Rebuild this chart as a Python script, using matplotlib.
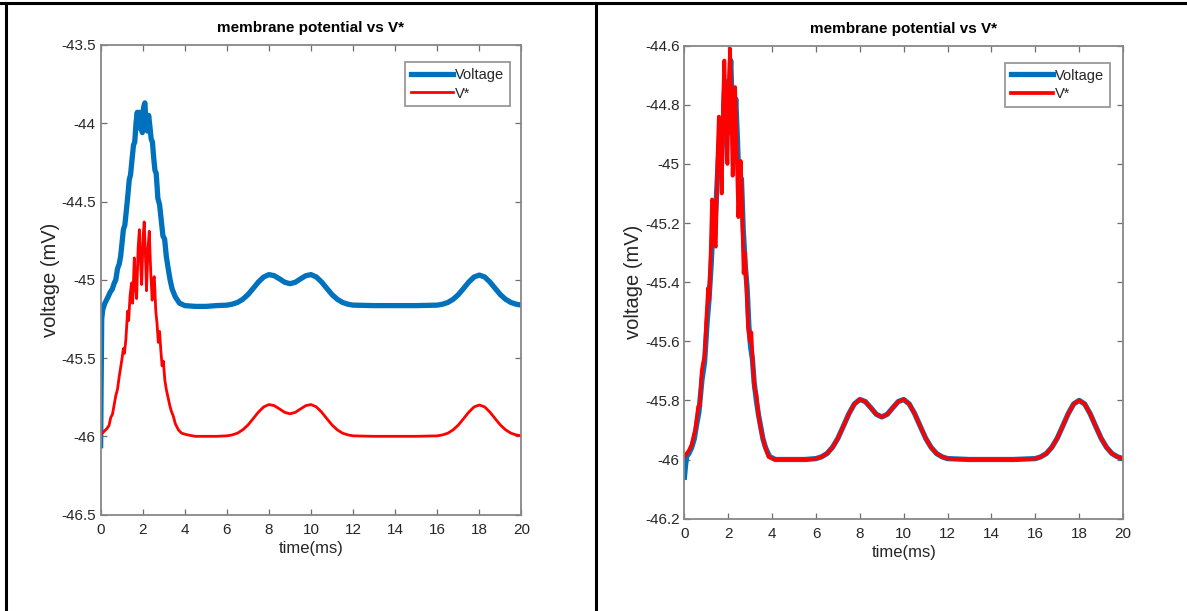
import matplotlib
matplotlib.use("Agg")
import matplotlib.pyplot as plt
from matplotlib.lines import Line2D

# ---- data (time in ms, potential in mV) ----
# early, jagged part of each trace
left_volt_t = [0.00, 0.02, 0.05, 0.10, 0.20, 0.35, 0.45, 0.55, 0.65, 0.72, 0.80, 0.88,
               0.95, 1.02, 1.08, 1.15, 1.22, 1.30, 1.36, 1.42, 1.50, 1.56, 1.62, 1.68,
               1.74, 1.80, 1.86, 1.92, 1.98, 2.04, 2.10, 2.16, 2.22, 2.28, 2.34, 2.40,
               2.46, 2.52, 2.58, 2.64, 2.72, 2.80, 2.88, 2.96, 3.04, 3.12, 3.20, 3.30,
               3.40, 3.55, 3.75, 4.00]
left_volt = [-46.06, -45.70, -45.25, -45.19, -45.15, -45.11, -45.08, -45.06, -45.02, -45.00,
             -44.93, -44.90, -44.85, -44.76, -44.68, -44.65, -44.56, -44.45, -44.36, -44.33,
             -44.22, -44.14, -44.12, -44.00, -43.93, -44.03, -43.93, -43.98, -44.06, -43.90,
             -43.87, -44.00, -44.05, -43.95, -44.02, -44.10, -44.12, -44.22, -44.30, -44.32,
             -44.48, -44.52, -44.62, -44.72, -44.74, -44.85, -44.92, -45.00, -45.06, -45.11,
             -45.15, -45.165]

left_vstar_t = [0.00, 0.15, 0.30, 0.40, 0.48, 0.56, 0.64, 0.72, 0.80, 0.88, 0.95, 1.02,
                1.08, 1.13, 1.20, 1.28, 1.33, 1.40, 1.47, 1.52, 1.60, 1.66, 1.71, 1.78,
                1.84, 1.90, 1.95, 2.02, 2.07, 2.13, 2.18, 2.25, 2.31, 2.38, 2.45, 2.50,
                2.55, 2.62, 2.68, 2.74, 2.80, 2.86, 2.92, 2.98, 3.05, 3.12, 3.20, 3.28,
                3.36, 3.45, 3.55, 3.70, 3.85, 4.10]
left_vstar = [-45.99, -45.97, -45.95, -45.93, -45.88, -45.86, -45.80, -45.74, -45.70, -45.62,
              -45.56, -45.50, -45.44, -45.47, -45.38, -45.20, -45.26, -45.10, -45.02, -45.15,
              -44.86, -45.05, -45.12, -44.80, -44.68, -44.90, -45.03, -44.72, -44.63, -44.85,
              -45.07, -44.80, -44.69, -44.95, -45.13, -45.00, -44.98, -45.20, -45.28, -45.40,
              -45.33, -45.45, -45.55, -45.52, -45.64, -45.70, -45.75, -45.80, -45.84, -45.87,
              -45.92, -45.96, -45.98, -45.99]

right_volt_t = [0.00, 0.05, 0.10, 0.20, 0.33, 0.45, 0.56, 0.66, 0.80, 0.92, 1.04, 1.12,
                1.22, 1.30, 1.40, 1.50, 1.60, 1.68, 1.78, 1.85, 1.95, 2.04, 2.11, 2.18,
                2.24, 2.34, 2.42, 2.50, 2.60, 2.68, 2.78, 2.86, 2.94, 3.02, 3.10, 3.18,
                3.28, 3.38, 3.48, 3.58, 3.70, 3.88, 4.15]
right_volt = [-46.06, -46.02, -45.99, -45.98, -45.96, -45.93, -45.88, -45.84, -45.73, -45.67,
              -45.53, -45.46, -45.34, -45.22, -45.20, -45.05, -44.92, -45.02, -44.84, -44.72,
              -44.90, -44.78, -44.65, -44.80, -44.95, -44.78, -44.92, -45.10, -45.05, -45.22,
              -45.35, -45.42, -45.55, -45.62, -45.66, -45.74, -45.80, -45.85, -45.89, -45.93,
              -45.96, -45.99, -46.00]

right_vstar_t = [0.00, 0.10, 0.20, 0.33, 0.42, 0.50, 0.56, 0.63, 0.70, 0.79, 0.86, 0.92,
                 1.02, 1.08, 1.13, 1.20, 1.26, 1.32, 1.37, 1.43, 1.50, 1.57, 1.63, 1.70,
                 1.76, 1.82, 1.89, 1.96, 2.02, 2.08, 2.14, 2.20, 2.26, 2.31, 2.38, 2.46,
                 2.52, 2.57, 2.63, 2.70, 2.76, 2.82, 2.90, 2.98, 3.05, 3.12, 3.20, 3.28,
                 3.36, 3.44, 3.52, 3.65, 3.83, 4.10]
right_vstar = [-45.99, -45.98, -45.97, -45.95, -45.92, -45.90, -45.86, -45.82, -45.82, -45.70,
               -45.67, -45.65, -45.50, -45.42, -45.46, -45.30, -45.12, -45.13, -45.27, -45.28,
               -45.00, -44.84, -44.90, -45.10, -44.80, -44.65, -44.85, -45.00, -44.75, -44.61,
               -44.80, -45.04, -44.88, -44.74, -44.95, -45.18, -45.05, -44.99, -45.15, -45.37,
               -45.30, -45.40, -45.55, -45.60, -45.57, -45.68, -45.76, -45.78, -45.84, -45.88,
               -45.91, -45.95, -45.99, -46.00]

# smooth tail (bumps at 8, 10 and 18 ms)
tail_t = [4.5, 5.0, 5.5, 6.0, 6.25, 6.5, 6.75, 7.0, 7.25, 7.5, 7.75, 8.0, 8.25, 8.5, 8.75,
          9.0, 9.25, 9.5, 9.75, 10.0, 10.25, 10.5, 10.75, 11.0, 11.25, 11.5, 11.75, 12.0,
          13.0, 14.0, 15.0, 16.0, 16.25, 16.5, 16.75, 17.0, 17.25, 17.5, 17.75, 18.0,
          18.25, 18.5, 18.75, 19.0, 19.25, 19.5, 19.75, 20.0]
tail_volt_left = [-45.17, -45.17, -45.165, -45.162, -45.156, -45.145, -45.125, -45.095,
                  -45.055, -45.014, -44.982, -44.967, -44.974, -44.994, -45.016, -45.025,
                  -45.016, -44.994, -44.974, -44.967, -44.982, -45.014, -45.055, -45.095,
                  -45.125, -45.145, -45.156, -45.162, -45.165, -45.165, -45.165, -45.162,
                  -45.156, -45.145, -45.125, -45.095, -45.055, -45.014, -44.982, -44.970,
                  -44.982, -45.014, -45.055, -45.095, -45.125, -45.145, -45.156, -45.162]
tail_vstar = [-46.00, -46.00, -46.00, -45.997, -45.991, -45.980, -45.959, -45.928,
              -45.887, -45.845, -45.812, -45.797, -45.804, -45.825, -45.847, -45.856,
              -45.847, -45.825, -45.804, -45.797, -45.812, -45.845, -45.887, -45.928,
              -45.959, -45.980, -45.991, -45.997, -46.00, -46.00, -46.00, -45.997,
              -45.991, -45.980, -45.959, -45.928, -45.887, -45.845, -45.812, -45.800,
              -45.812, -45.845, -45.887, -45.928, -45.959, -45.980, -45.991, -45.997]

left_yticks = [-46.5, -46, -45.5, -45, -44.5, -44, -43.5]
right_yticks = [-46.2, -46, -45.8, -45.6, -45.4, -45.2, -45, -44.8, -44.6]
xticks = list(range(0, 21, 2))

BLUE = "#0072BD"
RED = "#FF0000"
TXT = "#262626"

plt.rcParams["font.family"] = ["Liberation Sans", "DejaVu Sans"]

fig = plt.figure(figsize=(11.87, 6.11), dpi=100)


def style_axes(ax, yticks, ylim):
    ax.set_xlim(0, 20)
    ax.set_ylim(*ylim)
    ax.set_xticks(xticks)
    ax.set_yticks(yticks)
    ax.set_yticklabels([f"{v:g}" for v in yticks])
    ax.tick_params(direction="in", length=4, width=0.9, top=True, right=True,
                   labelsize=11, colors="#6e6e6e", labelcolor=TXT)
    ax.tick_params(axis="x", pad=6)
    ax.tick_params(axis="y", pad=3.5)
    for sp in ax.spines.values():
        sp.set_color("#878787")
        sp.set_linewidth(1.3)
    ax.set_title("membrane potential vs V*", fontsize=11, fontweight="bold", pad=9)
    ax.set_xlabel("time(ms)", fontsize=12, color=TXT, labelpad=3)
    ax.set_ylabel("voltage (mV)", fontsize=14.5, color=TXT)


def add_legend(ax, anchor):
    leg = ax.legend(loc="upper right", bbox_to_anchor=anchor, fancybox=False,
                    edgecolor="#7f7f7f", handlelength=2.9, handletextpad=0.1,
                    borderpad=0.4, labelspacing=0.3, fontsize=10.5, borderaxespad=0)
    leg.get_frame().set_linewidth(1.3)
    for txt in leg.get_texts():
        txt.set_color(TXT)


# left panel
ax1 = fig.add_axes([0.0848, 0.1578, 0.3545, 0.7686])
ax1.plot(left_volt_t + tail_t, left_volt + tail_volt_left, color=BLUE, lw=3.8,
         label="Voltage")
ax1.plot(left_vstar_t + tail_t, left_vstar + tail_vstar, color=RED, lw=2.0, label="V*")
style_axes(ax1, left_yticks, (-46.5, -43.5))
ax1.yaxis.set_label_coords(-0.0955, 0.5)
add_legend(ax1, (0.972, 0.963))

# right panel
ax2 = fig.add_axes([0.5766, 0.1512, 0.3695, 0.774])
ax2.plot(right_volt_t + tail_t, right_volt + tail_vstar, color=BLUE, lw=3.8,
         label="Voltage")
ax2.plot(right_vstar_t + tail_t, right_vstar + tail_vstar, color=RED, lw=2.7, label="V*")
style_axes(ax2, right_yticks, (-46.2, -44.6))
ax2.yaxis.set_label_coords(-0.094, 0.5)
add_legend(ax2, (0.970, 0.964))

# page borders around the two panels
for xs, ys in [([0.0, 1.0], [0.995, 0.995]), ([0.005, 0.005], [0.0, 0.995]),
               ([0.502, 0.502], [0.0, 0.995])]:
    fig.add_artist(Line2D(xs, ys, transform=fig.transFigure, color="black", lw=2.2))

fig.savefig("out.png", dpi=100)
